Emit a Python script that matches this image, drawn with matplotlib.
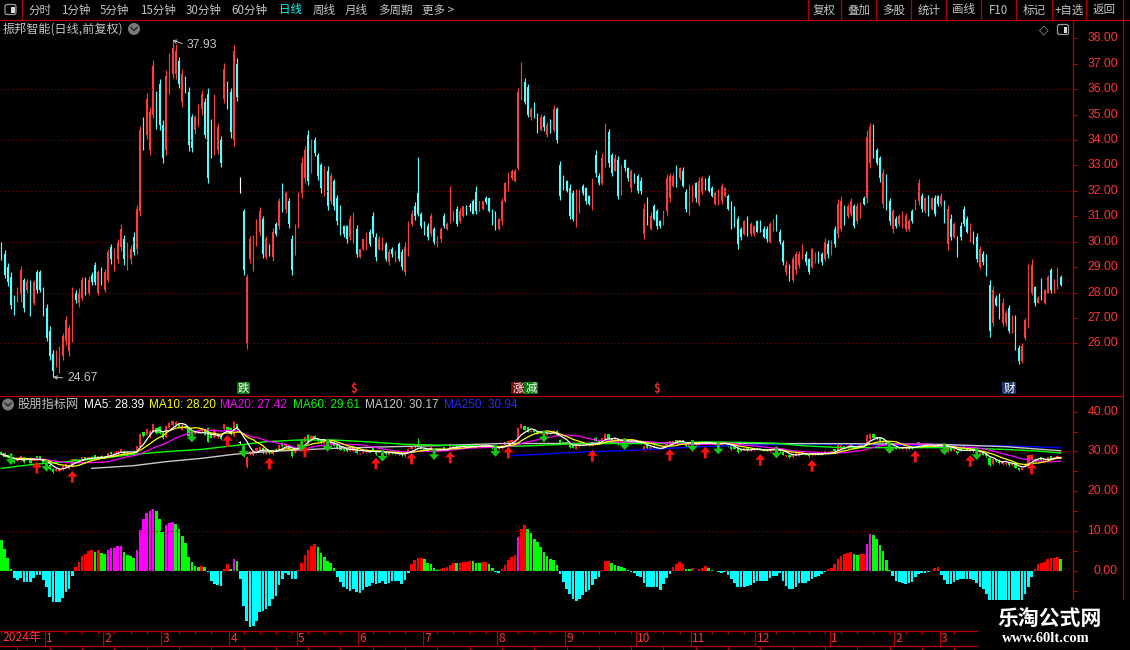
import numpy as np
import pandas as pd
import matplotlib
matplotlib.use("Agg")
import matplotlib.pyplot as plt
from matplotlib import patches, transforms

plt.rcParams["font.family"] = ["Noto Sans CJK SC", "DejaVu Sans"]

W, H = 1130, 650

# daily bars, Dec 2023 .. Mar 2025
opens = [
    29.95, 29.5, 29.0, 28.6, 27.8, 27.7, 27.9, 28.5, 28.1, 28.4,
    27.6, 28.8, 28.8, 28.1, 27.4, 26.5, 25.6, 25.2, 25.0, 25.5,
    26.1, 25.7, 26.3, 28.0, 27.6, 27.8, 28.5, 28.0, 28.7, 29.1,
    28.0, 28.9, 28.1, 28.5, 29.8, 29.0, 29.3, 29.8, 30.1, 29.1,
    29.3, 30.2, 29.7, 31.2, 34.8, 34.2, 33.6, 35.0, 35.8, 36.2,
    34.6, 33.6, 36.0, 36.6, 36.6, 37.1, 35.5, 36.4, 35.9, 34.9,
    34.4, 34.7, 35.2, 35.5, 35.8, 34.7, 33.6, 33.6, 34.0, 35.6,
    36.2, 35.9, 34.0, 37.0, 32.2, 31.2, 26.0, 29.3, 29.0, 30.0,
    30.4, 30.9, 29.4, 29.8, 29.4, 30.7, 30.6, 32.1, 31.3, 31.6,
    30.1, 29.6, 30.7, 31.9, 32.5, 34.2, 32.9, 34.0, 33.4, 33.0,
    32.0, 32.8, 31.6, 32.4, 31.7, 31.3, 30.6, 30.6, 30.2, 30.1,
    30.5, 29.4, 29.7, 29.8, 30.4, 31.0, 30.2, 29.7, 29.8, 29.9,
    29.2, 29.7, 29.3, 29.9, 29.6, 28.8, 29.6, 30.7, 31.4, 31.9,
    31.1, 30.7, 30.6, 30.3, 30.5, 29.9, 30.1, 31.0, 30.5, 30.9,
    30.9, 31.3, 30.8, 31.0, 31.4, 31.35, 31.6, 32.0, 31.2, 31.3,
    31.7, 31.7, 31.2, 31.1, 30.5, 30.8, 31.6, 32.1, 32.5, 32.4,
    32.9, 35.8, 36.3, 36.1, 34.9, 35.4, 35.0, 34.4, 34.9, 34.2,
    34.7, 34.4, 35.2, 33.0, 32.5, 32.4, 32.1, 31.9, 30.7, 31.3,
    32.2, 32.1, 31.8, 31.4, 33.4, 32.6, 32.3, 33.1, 34.3, 33.4,
    32.8, 33.2, 32.0, 33.2, 32.9, 32.1, 32.6, 32.6, 32.4, 30.3,
    31.6, 30.5, 31.4, 31.2, 30.8, 30.7, 31.2, 31.7, 32.2, 32.9,
    32.5, 32.8, 32.0, 31.2, 31.7, 32.3, 31.5, 32.0, 32.4, 32.5,
    32.1, 31.5, 31.5, 31.6, 31.8, 31.8, 31.5, 31.3, 30.9, 30.5,
    30.3, 30.9, 30.3, 30.3, 30.8, 30.8, 30.5, 30.5, 30.0, 30.5,
    31.0, 30.4, 30.0, 28.8, 29.0, 28.5, 28.9, 29.1, 29.4, 29.5,
    29.3, 29.0, 29.2, 29.5, 29.5, 29.3, 29.9, 29.6, 30.5, 30.3,
    30.5, 31.3, 31.0, 31.1, 31.4, 30.8, 31.0, 31.7, 31.7, 33.1,
    34.5, 33.6, 33.3, 31.5, 32.6, 31.6, 30.5, 30.9, 30.7, 30.6,
    30.5, 30.5, 31.2, 31.3, 31.6, 31.8, 31.2, 31.7, 31.3, 31.7,
    31.8, 31.5, 31.5, 29.9, 30.9, 30.2, 30.1, 30.6, 31.3, 30.9,
    30.1, 30.3, 30.2, 29.0, 29.5, 29.4, 28.3, 26.8, 27.8, 27.9,
    26.8, 26.8, 27.4, 26.5, 27.0, 25.8, 25.3, 26.2, 26.7, 28.0,
    28.2, 27.6, 28.5, 27.6, 28.0, 28.9, 28.0, 28.2, 28.6,
]
highs = [
    30.00, 29.66, 29.16, 28.81, 27.89, 28.21, 29.06, 28.59, 28.52, 28.51,
    28.51, 28.88, 28.90, 28.21, 27.56, 26.67, 25.75, 25.75, 25.88, 26.41,
    27.06, 26.74, 28.21, 28.11, 28.18, 28.61, 28.61, 28.64, 28.81, 29.20,
    28.90, 29.01, 28.94, 29.73, 29.91, 29.77, 30.12, 30.71, 30.28, 30.00,
    29.85, 30.37, 31.46, 34.57, 34.91, 35.83, 35.31, 37.13, 35.92, 36.38,
    34.78, 36.75, 37.43, 37.93, 37.76, 37.27, 36.81, 36.51, 36.09, 35.04,
    35.00, 35.40, 35.95, 35.66, 36.05, 34.83, 35.79, 34.65, 34.15, 37.01,
    36.32, 36.05, 37.73, 37.21, 32.54, 31.30, 28.74, 30.21, 30.25, 30.91,
    31.36, 31.00, 30.21, 29.89, 30.54, 30.78, 31.70, 32.29, 32.01, 31.72,
    30.28, 30.70, 31.96, 33.32, 33.76, 34.41, 34.02, 34.12, 33.49, 33.10,
    32.99, 32.99, 32.71, 32.47, 31.85, 31.46, 30.67, 30.67, 31.03, 31.17,
    30.67, 29.73, 30.12, 30.37, 30.48, 31.15, 30.35, 30.21, 30.19, 29.99,
    29.73, 29.79, 29.69, 29.99, 29.73, 29.99, 30.83, 31.26, 31.55, 33.34,
    31.17, 30.83, 30.74, 31.13, 30.58, 30.24, 30.58, 31.11, 30.78, 32.21,
    31.26, 31.42, 31.33, 31.42, 31.46, 31.53, 31.66, 32.21, 31.62, 31.62,
    31.79, 31.72, 31.29, 31.20, 30.94, 31.72, 32.35, 32.75, 32.86, 32.84,
    36.05, 37.08, 36.45, 36.22, 35.31, 35.49, 35.07, 35.04, 35.00, 34.71,
    34.83, 35.36, 35.31, 33.19, 32.64, 32.44, 32.25, 32.05, 32.08, 32.09,
    32.25, 32.16, 31.85, 32.51, 33.59, 32.71, 33.49, 34.65, 34.45, 33.49,
    33.43, 33.36, 33.01, 33.27, 32.93, 32.86, 32.71, 32.68, 32.54, 31.53,
    31.75, 31.16, 31.50, 31.30, 30.87, 31.26, 32.68, 32.71, 32.71, 33.00,
    32.93, 32.93, 32.09, 32.25, 32.22, 32.34, 32.54, 32.58, 32.51, 32.62,
    32.18, 32.01, 32.09, 32.29, 32.14, 31.89, 31.59, 31.40, 31.00, 30.57,
    30.87, 31.00, 30.76, 30.67, 30.84, 30.87, 30.61, 30.61, 30.79, 30.90,
    31.07, 30.50, 30.08, 29.23, 29.14, 29.43, 29.62, 29.62, 29.89, 29.62,
    29.36, 29.75, 29.58, 29.62, 29.58, 30.15, 30.06, 30.06, 30.61, 31.66,
    31.79, 31.43, 31.50, 31.72, 31.49, 31.53, 31.55, 31.79, 34.39, 34.67,
    34.61, 33.67, 33.36, 32.84, 32.68, 31.72, 31.29, 31.00, 31.07, 31.20,
    31.13, 30.90, 31.30, 31.66, 32.47, 31.92, 31.76, 31.83, 31.76, 31.82,
    31.85, 31.92, 31.63, 31.46, 31.07, 30.76, 30.21, 30.76, 31.40, 31.00,
    30.74, 30.41, 30.34, 29.82, 29.62, 29.53, 28.48, 28.25, 27.92, 27.98,
    27.79, 27.33, 27.52, 27.13, 27.10, 25.92, 26.01, 27.00, 29.14, 29.33,
    28.27, 27.88, 28.57, 28.14, 28.67, 28.97, 28.53, 29.01, 28.70,
]
lows = [
    29.27, 28.56, 28.25, 27.35, 27.13, 27.62, 27.62, 27.22, 27.98, 27.06,
    27.52, 27.98, 28.02, 27.06, 26.08, 25.36, 24.67, 25.07, 24.83, 25.36,
    25.95, 25.49, 26.05, 27.59, 27.43, 27.69, 27.92, 27.92, 28.31, 28.28,
    27.92, 28.31, 28.02, 28.40, 29.14, 28.84, 29.16, 29.65, 29.10, 28.90,
    29.13, 29.47, 29.53, 31.00, 33.60, 34.02, 33.40, 34.85, 34.45, 34.39,
    33.10, 33.40, 35.79, 36.45, 36.38, 36.05, 35.31, 35.86, 33.56, 33.53,
    34.22, 34.54, 35.00, 34.06, 32.29, 33.30, 33.40, 33.43, 32.93, 35.46,
    35.20, 34.08, 33.76, 35.53, 31.92, 28.70, 25.79, 29.16, 28.84, 29.82,
    30.21, 29.36, 29.30, 29.43, 29.23, 30.21, 30.48, 31.17, 31.11, 30.54,
    28.68, 29.49, 30.52, 31.70, 32.31, 32.22, 32.71, 33.36, 32.41, 31.92,
    31.79, 31.26, 31.49, 31.26, 30.67, 30.28, 30.19, 29.95, 30.06, 29.95,
    29.40, 29.36, 29.66, 29.66, 29.82, 30.19, 29.23, 29.66, 29.66, 29.23,
    29.10, 29.39, 29.20, 29.23, 28.88, 28.68, 29.43, 30.61, 30.87, 31.00,
    30.52, 30.28, 30.08, 30.21, 29.89, 29.79, 29.99, 30.52, 30.45, 30.74,
    30.80, 30.61, 30.74, 30.97, 31.04, 31.20, 31.07, 31.09, 31.20, 31.26,
    31.50, 31.16, 30.67, 30.45, 30.45, 30.67, 31.55, 31.99, 32.42, 32.34,
    32.81, 35.57, 35.40, 34.90, 34.78, 34.87, 34.28, 34.35, 34.35, 34.12,
    34.28, 34.31, 33.89, 31.63, 32.02, 31.95, 30.91, 30.80, 30.57, 31.13,
    31.83, 31.50, 31.43, 31.26, 32.54, 32.22, 32.22, 32.93, 32.93, 32.58,
    32.77, 31.66, 31.85, 32.77, 32.38, 31.96, 32.29, 31.92, 31.89, 30.12,
    30.67, 30.44, 30.84, 30.50, 30.52, 30.67, 31.04, 31.55, 32.14, 32.14,
    32.44, 32.14, 31.16, 31.04, 31.57, 31.57, 31.40, 31.89, 32.02, 31.95,
    31.75, 31.46, 31.43, 31.50, 31.75, 31.24, 30.48, 30.57, 29.73, 30.08,
    30.25, 30.21, 30.21, 30.21, 30.38, 30.38, 30.15, 29.99, 29.95, 30.41,
    30.41, 29.91, 29.10, 28.68, 28.44, 28.42, 28.74, 28.97, 29.30, 29.10,
    28.73, 28.97, 29.16, 29.16, 29.10, 29.23, 29.36, 29.49, 29.79, 30.15,
    30.41, 30.67, 30.94, 31.00, 30.52, 30.74, 30.94, 31.43, 31.53, 32.90,
    33.30, 33.00, 32.34, 31.33, 31.26, 30.67, 30.34, 30.54, 30.61, 30.54,
    30.41, 30.41, 30.74, 31.26, 31.46, 31.16, 31.13, 31.00, 31.26, 31.00,
    31.39, 31.39, 30.74, 29.66, 30.08, 30.15, 29.40, 30.08, 30.61, 30.34,
    29.99, 29.89, 29.20, 28.93, 29.10, 28.64, 26.25, 26.67, 27.46, 26.96,
    26.67, 26.67, 26.41, 26.41, 25.73, 25.19, 25.23, 26.15, 26.60, 27.92,
    27.46, 27.59, 27.69, 27.56, 27.98, 27.98, 27.98, 28.15, 28.25,
]
closes = [
    29.35, 28.7, 28.4, 27.5, 27.3, 28.1, 28.9, 27.4, 28.4, 27.2,
    28.4, 28.1, 28.1, 27.2, 26.2, 25.5, 24.9, 25.6, 25.7, 26.3,
    26.9, 26.6, 28.0, 27.7, 28.0, 28.5, 28.0, 28.5, 28.4, 28.4,
    28.8, 28.4, 28.8, 29.6, 29.3, 29.6, 30.0, 30.5, 29.3, 29.9,
    29.7, 29.6, 31.3, 34.4, 33.8, 35.6, 35.1, 36.9, 34.6, 34.6,
    33.3, 36.5, 37.2, 37.6, 37.5, 36.2, 36.6, 36.0, 33.8, 33.7,
    34.9, 35.3, 35.8, 34.2, 32.5, 33.5, 35.5, 34.5, 33.1, 36.8,
    35.4, 34.3, 37.5, 35.7, 32.2, 28.9, 28.6, 30.1, 30.1, 30.8,
    31.2, 29.5, 30.1, 29.5, 30.4, 30.3, 31.6, 31.3, 31.9, 30.7,
    28.9, 30.6, 31.8, 33.1, 33.6, 32.4, 33.9, 33.5, 32.6, 32.1,
    32.9, 31.4, 32.6, 31.4, 30.8, 30.4, 30.3, 30.1, 30.9, 31.0,
    29.5, 29.7, 30.1, 30.3, 29.9, 30.3, 29.4, 30.1, 30.1, 29.3,
    29.6, 29.5, 29.6, 29.3, 29.0, 29.8, 30.7, 31.1, 31.0, 31.1,
    30.6, 30.4, 30.2, 31.0, 30.0, 30.2, 30.5, 30.6, 30.7, 32.0,
    31.2, 30.7, 31.2, 31.4, 31.1, 31.35, 31.1, 31.2, 31.6, 31.6,
    31.55, 31.2, 30.8, 30.5, 30.9, 31.6, 32.3, 32.6, 32.8, 32.8,
    35.9, 36.8, 35.5, 35.0, 35.2, 35.0, 34.4, 34.9, 34.5, 34.6,
    34.4, 35.2, 34.0, 31.8, 32.1, 32.0, 31.0, 30.9, 31.9, 31.9,
    31.9, 31.6, 31.5, 32.3, 32.7, 32.3, 33.3, 34.4, 33.1, 32.7,
    33.3, 31.8, 32.9, 32.9, 32.5, 32.8, 32.4, 32.0, 32.0, 31.3,
    30.8, 31.0, 30.9, 30.6, 30.6, 31.2, 32.5, 32.6, 32.6, 32.2,
    32.9, 32.2, 31.3, 32.1, 32.1, 31.7, 32.4, 32.5, 32.1, 32.0,
    31.8, 31.9, 32.0, 32.2, 32.1, 31.3, 30.6, 30.7, 29.9, 30.2,
    30.8, 30.3, 30.7, 30.6, 30.4, 30.4, 30.2, 30.1, 30.7, 30.8,
    30.5, 30.0, 29.2, 29.1, 28.6, 29.3, 29.5, 29.5, 29.8, 29.2,
    28.8, 29.7, 29.5, 29.2, 29.2, 30.0, 29.5, 30.0, 29.9, 31.5,
    31.6, 30.8, 31.4, 31.6, 30.6, 31.4, 31.5, 31.5, 34.1, 34.5,
    33.4, 33.1, 32.5, 32.7, 31.4, 30.8, 31.2, 30.6, 31.0, 31.1,
    31.0, 30.8, 30.8, 31.6, 32.3, 31.3, 31.7, 31.1, 31.7, 31.1,
    31.5, 31.8, 30.9, 31.3, 30.2, 30.7, 29.5, 30.2, 30.7, 30.4,
    30.6, 30.0, 29.3, 29.7, 29.2, 28.8, 26.5, 28.1, 27.5, 27.1,
    27.6, 27.2, 26.5, 27.0, 25.9, 25.3, 25.9, 26.9, 29.0, 29.1,
    27.6, 27.8, 27.8, 28.1, 28.6, 28.1, 28.5, 28.9, 28.3,
]

# indicator histogram (lower pane) and its colour state per bar
hist_vals = [
    7.7, 5.4, 3.2, 0.4, -1.9, -2.3, -1.8, -2.8, -2.8, -2.8,
    -1.8, -1.1, -1.0, -2.3, -4.0, -6.5, -8.0, -8.0, -7.8, -6.8,
    -5.4, -4.5, -1.3, 0.9, 2.2, 3.7, 4.2, 5.0, 5.2, 4.7,
    5.2, 4.4, 4.2, 5.2, 5.6, 5.6, 6.2, 6.2, 4.7, 4.0,
    3.7, 3.2, 5.2, 10.2, 13.0, 14.4, 15.0, 15.5, 15.0, 13.0,
    9.8, 11.5, 11.9, 12.2, 11.7, 10.5, 8.7, 6.9, 3.4, 2.2,
    1.2, 1.0, 1.2, 1.0, -0.3, -2.6, -3.3, -3.6, -3.8, 0.4,
    1.7, 0.4, 3.0, 2.5, -2.1, -9.0, -12.6, -14.1, -13.9, -12.6,
    -10.3, -10.1, -9.7, -9.0, -7.2, -6.4, -3.6, -2.1, -0.5, -1.0,
    -2.2, -2.2, 0.3, 2.0, 4.0, 5.2, 6.2, 6.7, 6.0, 4.4,
    3.4, 2.4, 2.0, 0.7, -1.5, -2.9, -4.0, -4.7, -5.0, -4.7,
    -5.3, -5.5, -4.9, -4.0, -3.8, -3.2, -3.4, -3.0, -2.6, -3.4,
    -3.0, -2.6, -2.6, -2.6, -3.4, -2.3, -0.5, 1.7, 2.7, 3.2,
    3.2, 2.9, 2.0, 1.7, 0.6, 0.3, 0.5, 0.7, 1.0, 1.5,
    1.9, 1.9, 1.9, 2.1, 2.3, 2.4, 2.4, 2.0, 1.9, 2.1,
    2.2, 1.6, 0.7, -0.3, -0.7, 0.4, 1.4, 2.7, 3.5, 4.0,
    8.6, 10.5, 11.5, 10.5, 9.6, 8.1, 7.1, 6.0, 4.8, 3.8,
    3.0, 2.7, 1.4, -0.8, -2.9, -4.7, -5.9, -7.0, -7.5, -7.0,
    -6.0, -5.3, -4.85, -3.6, -2.2, -1.5, 0.2, 2.4, 2.4, 2.0,
    1.4, 1.3, 1.0, 0.8, 0.2, -0.3, -0.7, -1.3, -1.7, -3.2,
    -4.2, -4.2, -4.2, -4.2, -4.85, -3.4, -1.9, -0.8, 1.0, 1.8,
    2.3, 1.8, 0.4, 0.4, 0.7, -0.2, 0.4, 0.8, 1.2, 0.7,
    0.2, -0.2, -0.3, -0.5, -0.3, -1.1, -2.2, -3.2, -4.2, -4.2,
    -4.2, -3.85, -3.7, -3.2, -2.5, -2.5, -2.5, -2.5, -1.8, -1.3,
    -1.3, -0.5, -2.7, -3.8, -4.7, -4.7, -4.2, -3.0, -3.0, -3.0,
    -2.5, -2.2, -1.7, -1.3, -0.8, -0.3, 0.4, 0.8, 1.7, 2.9,
    3.7, 4.1, 4.4, 4.6, 4.2, 4.0, 4.1, 4.1, 6.7, 9.2,
    9.0, 8.1, 6.5, 5.0, 2.7, 0.3, -1.3, -2.6, -2.9, -3.2,
    -3.4, -3.0, -2.8, -1.7, -0.8, -0.7, -0.5, -0.3, -0.1, 0.8,
    1.0, -1.1, -2.3, -3.4, -3.4, -2.8, -2.3, -2.1, -2.1, -2.1,
    -2.1, -2.3, -3.2, -4.0, -4.7, -5.9, -7.5, -8.5, -9.5, -10.0,
    -10.5, -10.5, -10.0, -9.5, -9.0, -8.5, -8.0, -5.9, -4.0, -1.7,
    0.4, 1.7, 1.9, 2.3, 2.9, 3.1, 3.3, 3.5, 2.9,
]
hist_runs = [
    ("G", 4), ("C", 19), ("R", 6), ("G", 1), ("R", 1), ("G", 2), ("M", 5),
    ("G", 4), ("M", 6), ("G", 3), ("M", 3), ("G", 8), ("R", 1), ("G", 1),
    ("C", 5), ("R", 2), ("G", 1), ("M", 1), ("G", 1), ("C", 18), ("R", 6),
    ("G", 6), ("C", 23), ("R", 4), ("G", 5), ("R", 5), ("G", 1), ("R", 4),
    ("G", 3), ("R", 2), ("G", 2), ("C", 2), ("R", 5), ("M", 1), ("R", 2),
    ("G", 10), ("C", 13), ("R", 3), ("G", 6), ("C", 13), ("R", 4), ("G", 2),
    ("R", 1), ("C", 1), ("R", 3), ("G", 2), ("C", 35), ("R", 8), ("G", 2),
    ("R", 2), ("M", 2), ("G", 6), ("C", 13), ("R", 2), ("C", 29), ("R", 8),
    ("G", 1),
]

# long moving averages (history before the visible range is not on screen)
ma60_idx = [0, 10, 20, 31, 41, 51, 62, 72, 82, 92, 103, 114, 125, 135, 145, 155,
            166, 176, 186, 197, 207, 217, 229, 239, 249, 260, 270, 280, 290, 300,
            311, 321, 328]
ma60_vals = [25.75, 26.76, 27.43, 28.27, 29.28, 29.95, 30.53, 31.46, 32.46, 32.88,
             32.88, 32.40, 31.80, 31.60, 31.40, 31.20, 31.50, 31.90, 32.00, 32.00,
             32.00, 32.40, 32.30, 32.10, 31.40, 30.96, 30.96, 30.96, 30.96, 30.80,
             30.50, 30.10, 29.61]
ma120_idx = [28, 41, 51, 62, 72, 82, 92, 103, 116, 135, 155, 176, 197, 217, 229,
             260, 290, 311, 328]
ma120_vals = [25.75, 26.43, 27.43, 28.27, 29.28, 29.95, 30.37, 30.79, 31.10, 31.46,
              32.00, 32.00, 32.20, 32.00, 32.00, 31.96, 31.80, 31.20, 30.17]
ma250_idx = [158, 166, 176, 186, 197, 207, 217, 232, 249, 270, 290, 311, 328]
ma250_vals = [28.94, 29.28, 29.70, 30.03, 30.37, 30.79, 31.20, 31.60, 31.88, 31.70,
              31.50, 31.40, 30.94]

# buy / sell arrows in the indicator pane
buy_idx = [11, 22, 70, 83, 94, 116, 127, 139, 157, 183, 207, 218, 235, 251, 283, 300, 319]
buy_tip = [27.43, 25.08, 34.14, 28.44, 31.46, 28.44, 29.70, 29.95, 31.20, 30.37,
           30.62, 31.20, 29.36, 27.85, 30.20, 29.10, 27.18]
sell_idx = [3, 14, 59, 75, 93, 101, 118, 134, 153, 168, 193, 214, 222, 240, 275, 292, 302]
sell_top = [29.53, 27.85, 35.23, 31.60, 33.05, 32.88, 30.37, 30.79, 31.60, 35.23,
            33.30, 32.88, 32.20, 31.20, 32.30, 32.05, 30.79]

# event markers under the price pane
marker_idx = [75, 109, 160, 164, 203, 312]
marker_txt = ["跌", "$", "涨", "减", "$", "财"]

# months on the date strip
month_first = [14, 32, 50, 71, 92, 111, 131, 154, 175, 197, 214, 234, 257, 277, 291]
month_names = ["1", "2", "3", "4", "5", "6", "7", "8", "9", "10", "11", "12", "1", "2", "3"]

ma_labels = [("MA5: 28.39", 83.6, "#FFFFFF"), ("MA10: 28.20", 148.8, "#FFFF00"),
             ("MA20: 27.42", 220.5, "#FF00FF"), ("MA60: 29.61", 292.6, "#00FF00"),
             ("MA120: 30.17", 364.7, "#C8C8C8"), ("MA250: 30.94", 444.0, "#2828FF")]

FRAME = "#B40000"
GRID = "#8C0000"
AXTXT = "#FF3434"
GRAY = "#C4C4C4"
NUM = "Liberation Sans"
MARK_STYLE = {"跌": ("white", "#0B7A0B"), "涨": ("white", "#7A0A0A"),
              "减": ("white", "#0B7A0B"), "财": ("white", "#1E3C6E"),
              "$": ("#FF2020", None)}


def px(x0, y0, x1, y1):
    return [x0 / W, 1 - y1 / H, (x1 - x0) / W, (y1 - y0) / H]


fig = plt.figure(figsize=(W / 100, H / 100), dpi=100)
fig.patch.set_facecolor("black")

ax = fig.add_axes(px(0, 20, 1072, 396))
axl = fig.add_axes(px(0, 397, 1072, 630))
for a in (ax, axl):
    a.set_xlim(-0.41, 331.5)
    a.axis("off")
ax.set_ylim(23.93, 38.72)
axl.set_ylim(-14.92, 43.70)

ov = fig.add_axes([0, 0, 1, 1], zorder=10)
ov.set_xlim(0, W)
ov.set_ylim(H, 0)
ov.axis("off")

n = len(closes)
idx = np.arange(n)
o, hi, lo, c = (np.array(v, dtype=float) for v in (opens, highs, lows, closes))

# ---- price pane
for lv in (26, 28, 30, 32, 34, 36):
    ax.axhline(lv, color=GRID, lw=0.8, ls=(0, (1, 2.5)))
col = np.where(c > o, "#FF3C3C", np.where(c < o, "#54FFFF", "#FFFFFF"))
ax.vlines(idx, lo, hi, colors=col, lw=0.85)
ax.bar(idx, np.maximum(np.abs(c - o), 0.04), bottom=np.minimum(o, c), width=0.45,
       color=col, lw=0)

ih, il = int(np.argmax(hi)), int(np.argmin(lo))
for i, v, dy in ((ih, hi[ih], -5), (il, lo[il], -1)):
    ax.annotate(f"{v:.2f}", xy=(i, v), xytext=(14, dy), textcoords="offset pixels",
                color=GRAY, fontsize=8.8, family=NUM, ha="left", va="center",
                arrowprops=dict(arrowstyle="->", color=GRAY, lw=0.7, shrinkA=1,
                                shrinkB=0, relpos=(0, 0.5), mutation_scale=6))

tr_mk = transforms.blended_transform_factory(ax.transData, ov.transData)
for i, t in zip(marker_idx, marker_txt):
    fg, bg = MARK_STYLE[t]
    box = dict(boxstyle="square,pad=0.08", fc=bg, ec="none") if bg else None
    ax.text(i, 388, t, transform=tr_mk, color=fg, fontsize=8.2, ha="center",
            va="center", bbox=box, fontweight="bold" if t == "$" else "normal")

# ---- indicator pane
for lv in (30, 10):
    axl.axhline(lv, color=GRID, lw=0.8, ls=(0, (1, 2.5)))
col2 = np.where(c > o, "#FF2828", np.where(c < o, "#00FF00", "#FFFFFF"))
axl.vlines(idx, lo, hi, colors=col2, lw=0.7)
axl.bar(idx, np.maximum(np.abs(c - o), 0.25), bottom=np.minimum(o, c), width=0.72,
        color=col2, lw=0)

axl.plot(ma250_idx, ma250_vals, color="#0000FF", lw=1.0)
axl.plot(ma120_idx, ma120_vals, color="#C8C8C8", lw=1.0)
axl.plot(ma60_idx, ma60_vals, color="#00FF00", lw=1.0)
cs = pd.Series(closes)
for w, mc in ((20, "#FF00FF"), (10, "#FFFF00"), (5, "#FFFFFF")):
    axl.plot(idx, cs.rolling(w, min_periods=1).mean(), color=mc, lw=0.9)


def arrow(i, y0, up, color):
    hw, sw, hl, ln = 1.6, 0.45, 1.45, 2.95
    if up:
        xs = [i, i + hw, i + sw, i + sw, i - sw, i - sw, i - hw]
        ys = [y0, y0 - hl, y0 - hl, y0 - ln, y0 - ln, y0 - hl, y0 - hl]
    else:
        m = y0 - (ln - hl)
        xs = [i - sw, i + sw, i + sw, i + hw, i, i - hw, i - sw]
        ys = [y0, y0, m, m, y0 - ln, m, m]
    axl.fill(xs, ys, color=color, lw=0, zorder=4)


for i, v in zip(buy_idx, buy_tip):
    arrow(i, v, True, "#FF1010")
for i, v in zip(sell_idx, sell_top):
    arrow(i, v, False, "#14C814")

state = "".join(s * k for s, k in hist_runs)
hist_colors = {"C": "#00FFFF", "R": "#FF0000", "G": "#00FF00", "M": "#FF00FF"}
axl.bar(idx, hist_vals, width=0.82, color=[hist_colors[s] for s in state], lw=0)

# ---- right-hand scales
tr_p = transforms.blended_transform_factory(ov.transData, ax.transData)
for p in range(26, 39):
    ax.text(1118, p, f"{p:.2f}", transform=tr_p, ha="right", va="center",
            color=AXTXT, fontsize=8.8, family=NUM, clip_on=False)
    ax.plot([1072.5, 1077], [p, p], transform=tr_p, color=FRAME, lw=0.8, clip_on=False)
tr_l = transforms.blended_transform_factory(ov.transData, axl.transData)
for v in range(40, -6, -5):
    axl.plot([1072.5, 1077], [v, v], transform=tr_l, color=FRAME, lw=0.8, clip_on=False)
    if v % 10 == 0:
        axl.text(1118, v, f"{v:.2f}", transform=tr_l, ha="right", va="center",
                 color=AXTXT, fontsize=8.8, family=NUM, clip_on=False)

# ---- date strip
tr_d = transforms.blended_transform_factory(axl.transData, ov.transData)
axl.vlines(np.array(month_first) - 0.5, 630.5, 646, transform=tr_d, color=FRAME,
           lw=0.9, clip_on=False)
for i, name in zip(month_first, month_names):
    axl.text(i - 0.1, 638, name, transform=tr_d, color=AXTXT, fontsize=8.7,
             ha="left", va="center", clip_on=False)
minor = [k for k in range(0, 300, 5) if all(abs(k - m) > 1 for m in month_first)]
axl.vlines(minor, 630.5, 634, transform=tr_d, color=FRAME, lw=0.8, clip_on=False)
axl.vlines(list(range(5, 300, 10)), 646, 650, transform=tr_d, color=FRAME, lw=0.8,
           clip_on=False)
ov.text(2, 638, "2024年", color=AXTXT, fontsize=8.7, ha="left", va="center")

# ---- frame lines
for xs, ys in (([0, W], [19.5, 19.5]), ([21.5, 21.5], [0, 19.5]),
               ([0, 1123], [396, 396]), ([1072.5, 1072.5], [19.5, 600]),
               ([1123, 1123], [0, 600]), ([0, 978], [630.5, 630.5]),
               ([0, 978], [646, 646])):
    ov.plot(xs, ys, color=FRAME, lw=0.9)

# ---- top menu bar
menu = [("分时", 28.8), ("1分钟", 61), ("5分钟", 100), ("15分钟", 140),
        ("30分钟", 185.6), ("60分钟", 231.7), ("日线", 278.6), ("周线", 312.8),
        ("月线", 345), ("多周期", 378), ("更多 >", 422)]
for t, x in menu:
    ov.text(x, 10, t, color="#00FFFF" if t == "日线" else GRAY, fontsize=8.3,
            ha="left", va="center")
seps = [807.5, 841.4, 876, 911.3, 946.3, 981.2, 1016.2, 1051.5, 1086.4, 1122.8]
buttons = ["复权", "叠加", "多股", "统计", "画线", "F10", "标记", "+自选", "返回"]
for k, t in enumerate(buttons):
    ov.plot([seps[k], seps[k]], [0, 19.5], color=FRAME, lw=0.9)
    ov.text((seps[k] + seps[k + 1]) / 2, 10, t, color=GRAY, fontsize=8.3,
            ha="center", va="center")


def toggle_icon(x0, y0):
    ov.add_patch(patches.FancyBboxPatch((x0, y0), 11, 10, boxstyle="round,pad=0,rounding_size=2",
                                        fc="none", ec="#9A9A9A", lw=0.9))
    ov.add_patch(patches.Rectangle((x0 + 6, y0 + 2), 3.5, 6, fc="#D8D8D8", ec="none"))


def chevron_icon(x, y):
    ov.add_patch(patches.Circle((x, y), 6, fc="#7A7A7A", ec="none"))
    ov.plot([x - 3, x, x + 3], [y - 1.5, y + 1.5, y - 1.5], color="#2A2A2A", lw=1.1)


toggle_icon(5, 4.5)
toggle_icon(1057.5, 24.5)
ov.text(1044, 29.5, "◇", color="#9A9A9A", fontsize=9, family="DejaVu Sans",
        ha="center", va="center")

# ---- pane titles
ov.text(3, 29, "振邦智能(日线,前复权)", color=GRAY, fontsize=8.7, ha="left", va="center")
chevron_icon(134, 29)
chevron_icon(8, 404.5)
ov.text(18, 404.5, "股朋指标网", color=GRAY, fontsize=8.8, ha="left", va="center")
for t, x, mc in ma_labels:
    ov.text(x, 404.5, t, color=mc, fontsize=8.5, family=NUM, ha="left", va="center")

# ---- watermark block
ov.add_patch(patches.Rectangle((978, 600), 152, 50, fc="black", ec="none", zorder=5))
ov.text(1049.5, 618, "乐淘公式网", color="white", fontsize=15, fontweight="bold",
        ha="center", va="center", zorder=6)
ov.text(1046, 639, "www.60lt.com", color="white", fontsize=10.5, fontweight="bold",
        family="Liberation Serif", ha="center", va="center", zorder=6)

fig.savefig("out.png", dpi=100, facecolor="black")
